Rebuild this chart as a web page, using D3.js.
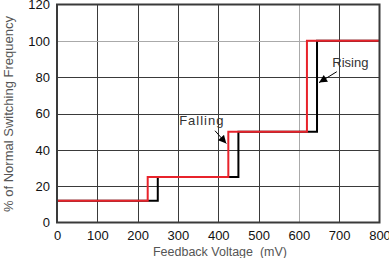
<!DOCTYPE html>
<html><head><meta charset="utf-8">
<script src="https://cdn.jsdelivr.net/npm/d3@7"></script>
<style>
html,body{margin:0;padding:0;background:#fff;}
svg{display:block;font-family:"Liberation Sans",Arial,sans-serif;}
</style></head>
<body>
<svg id="c" width="389" height="258"></svg>
<script>
// Data
const xTicks = [0,100,200,300,400,500,600,700,800];
const yTicks = [0,20,40,60,80,100,120];
// Rising (black) step curve: voltage breakpoints and frequency levels
const risingX = [0,250,250,450,450,645,645,800];
const risingY = [12,12,25,25,50,50,100,100];
// Falling (red) step curve
const fallingX = [0,225,225,425,425,620,620,800];
const fallingY = [12,12,25,25,50,50,100,100];
// Annotations [label, textX, textY, arrowFromX, arrowFromY, arrowToX, arrowToY]
const annotLabels = ["Falling","Rising"];
const annotText = [[303,53.5],[683,85.5]];
const annotArrow = [[392,50.5,420,43.5],[694,83,650,77]];

const svg = d3.select("#c");
const x = d3.scaleLinear().domain([0,800]).range([57,379.5]);
const y = d3.scaleLinear().domain([0,120]).range([222.5,4.5]);

// grid
const g = svg.append("g");
g.selectAll(".vg").data(xTicks.slice(1,-1)).join("line")
  .attr("x1",d=>Math.round(x(d))+0.5).attr("x2",d=>Math.round(x(d))+0.5)
  .attr("y1",y(120)).attr("y2",y(0))
  .attr("stroke",d=>d===600?"#aaaaaa":"#3a3a3a").attr("stroke-width",1);
g.selectAll(".hg").data(yTicks.slice(1,-1)).join("line")
  .attr("y1",d=>Math.round(y(d))+0.5).attr("y2",d=>Math.round(y(d))+0.5)
  .attr("x1",x(0)).attr("x2",x(800))
  .attr("stroke",d=>d===100?"#aaaaaa":"#3a3a3a").attr("stroke-width",1);

// lines
const line = d3.line().x(d=>x(d[0])).y(d=>y(d[1]));
svg.append("path").datum(risingX.map((v,i)=>[v,risingY[i]]))
  .attr("d",line).attr("fill","none").attr("stroke","#000").attr("stroke-width",2);
svg.append("path").datum(fallingX.map((v,i)=>[v,fallingY[i]]))
  .attr("d",line).attr("fill","none").attr("stroke","#e8232b").attr("stroke-width",2);

// frame
svg.append("rect").attr("x",x(0)).attr("y",y(120)).attr("width",x(800)-x(0)).attr("height",y(0)-y(120))
  .attr("fill","none").attr("stroke","#3a3a3a").attr("stroke-width",2);

// axes labels
const xa = svg.append("g").attr("transform",`translate(0,${y(0)})`)
  .call(d3.axisBottom(x).tickValues(xTicks).tickSize(0).tickPadding(8));
const ya = svg.append("g").attr("transform",`translate(${x(0)},0)`)
  .call(d3.axisLeft(y).tickValues(yTicks).tickSize(0).tickPadding(7));
[xa,ya].forEach(a=>{a.select(".domain").remove();
  a.selectAll("text").attr("font-size",13).attr("fill","#111").attr("font-family","Liberation Sans, Arial, sans-serif");});

// titles
svg.append("text").attr("x",220).attr("y",256).attr("text-anchor","middle")
  .attr("font-size",12.5).attr("fill","#555").attr("xml:space","preserve")
  .text("Feedback Voltage  (mV)");
svg.append("text").attr("transform","translate(13,114) rotate(-90)").attr("text-anchor","middle")
  .attr("font-size",13).attr("fill","#555").text("% of Normal Switching Frequency");

// annotations
const defs = svg.append("defs");
defs.append("marker").attr("id","ah").attr("viewBox","0 0 10 10").attr("refX",10).attr("refY",5)
  .attr("markerWidth",9).attr("markerHeight",8).attr("markerUnits","userSpaceOnUse").attr("orient","auto")
  .append("path").attr("d","M0,0L10,5L0,10Z").attr("fill","#000");
annotLabels.forEach((lab,i)=>{
  svg.append("text").attr("x",x(annotText[i][0])).attr("y",y(annotText[i][1]))
    .attr("font-size",13).attr("fill","#333").attr("letter-spacing",i===0?1:0).text(lab);
  const a = annotArrow[i];
  svg.append("line").attr("x1",x(a[0])).attr("y1",y(a[1])).attr("x2",x(a[2])).attr("y2",y(a[3]))
    .attr("stroke","#000").attr("stroke-width",1).attr("marker-end","url(#ah)");
});
</script>
</body></html>
